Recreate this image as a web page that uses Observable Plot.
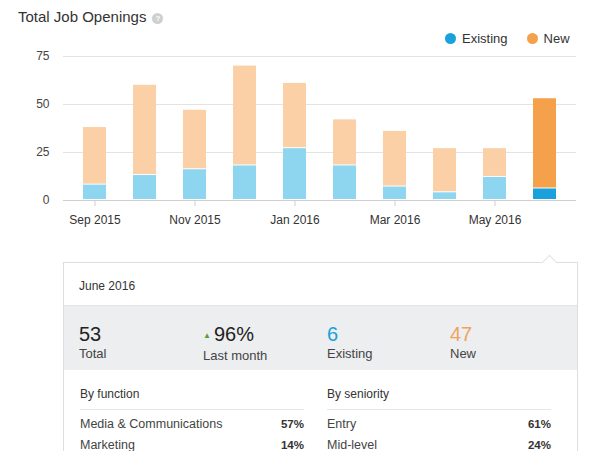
<!DOCTYPE html>
<html><head><meta charset="utf-8">
<script src="https://cdn.jsdelivr.net/npm/d3@7"></script>
<script src="https://cdn.jsdelivr.net/npm/@observablehq/plot@0.6"></script>
<style>
body{margin:0;background:#fff;font-family:"Liberation Sans",Arial,sans-serif;color:#333;}
#wrap{position:relative;width:600px;height:451px;overflow:hidden;}
#title{position:absolute;left:18px;top:8px;font-size:15px;color:#333;white-space:nowrap;}
#title .help{display:inline-block;width:11px;height:11px;border-radius:50%;background:#cfcfcf;color:#fff;font-size:8px;line-height:11px;text-align:center;font-weight:bold;vertical-align:1px;margin-left:6px;}
#legend{position:absolute;top:31px;left:445px;font-size:13px;white-space:nowrap;}
#legend .it{display:inline-flex;align-items:center;margin-right:19px;}
#legend .dot{display:inline-block;width:11px;height:11px;border-radius:50%;margin-right:6px;}
#chart{position:absolute;left:0;top:0;}
#panel{position:absolute;left:63px;top:262px;width:513px;height:200px;border:1px solid #dedede;background:#fff;}
#caret{position:absolute;left:480px;top:-6px;width:10px;height:10px;background:#fff;border-left:1px solid #e2e2e2;border-top:1px solid #e2e2e2;transform:rotate(45deg);}
#phead{position:absolute;left:15px;top:16px;font-size:12px;color:#333;}
#band{position:absolute;left:0;top:42px;width:513px;height:64px;background:#eceef0;border-top:1px solid #e2e4e6;}
.stat{position:absolute;top:17px;}
.stat .v{font-size:20px;line-height:22px;color:#222;}
.stat .l{font-size:13px;line-height:16px;color:#444;margin-top:1px;}
.tri{font-size:8px;color:#5a9e3a;vertical-align:3px;margin-right:3px;}
.sec{position:absolute;top:124px;width:224px;}
.sec .h{font-size:12px;color:#333;height:22px;border-bottom:1px solid #e6e6e6;}
.sec .r{display:flex;justify-content:space-between;font-size:12.5px;color:#444;height:21px;line-height:21px;}
.sec .r b{font-size:11.5px;color:#333;}
</style></head><body>
<div id="wrap">
  <div id="title">Total Job Openings<span class="help">?</span></div>
  <div id="legend"></div>
  <div id="chart"></div>
  <div id="panel">
    <div id="caret"></div>
    <div id="phead"></div>
    <div id="band"></div>
    <div id="secs"></div>
  </div>
</div>
<script>
const months = ["Sep 2015","Oct 2015","Nov 2015","Dec 2015","Jan 2016","Feb 2016","Mar 2016","Apr 2016","May 2016","Jun 2016"];
const existing = [8,13,16,18,27,18,7,4,12,6];
const newJobs = [30,47,31,52,34,24,29,23,15,47];
const xTicks = ["Sep 2015","Nov 2015","Jan 2016","Mar 2016","May 2016"];
const yTicks = [0,25,50,75];
const seriesNames = ["Existing","New"];

const panelTitle = "June 2016";
const statValues = ["53","96%","6","47"];
const statLabels = ["Total","Last month","Existing","New"];
const functionNames = ["Media & Communications","Marketing"];
const functionShares = ["57%","14%"];
const seniorityNames = ["Entry","Mid-level"];
const seniorityShares = ["61%","24%"];

const lightColors = {Existing:"#8ed5f0", New:"#fbd0a6"};
const darkColors = {Existing:"#1aa1db", New:"#f5a04a"};

const rows = [];
months.forEach((m,i)=>{
  const last = i === months.length-1;
  rows.push({month:m, type:"Existing", value:existing[i], color:(last?darkColors:lightColors).Existing});
  rows.push({month:m, type:"New", value:newJobs[i], color:(last?darkColors:lightColors).New});
});

const chart = Plot.plot({
  width:600, height:235,
  marginTop:56, marginBottom:35, marginLeft:63, marginRight:24,
  style:{fontFamily:"'Liberation Sans', Arial, sans-serif", fontSize:"12px", color:"#444", background:"transparent"},
  x:{type:"band", domain:months, paddingInner:0.546, paddingOuter:0.332, label:null},
  y:{domain:[0,75], label:null},
  color:{type:"identity"},
  marks:[
    Plot.gridY({ticks:yTicks.filter(d=>d>0), stroke:"#e3e3e3", strokeOpacity:1}),
    Plot.barY(rows, {x:"month", y:"value", z:"type", fill:"color", insetBottom:1}),
    Plot.ruleY([0], {stroke:"#cfcfcf", strokeWidth:1.2}),
    Plot.axisY({ticks:yTicks, tickSize:0, tickPadding:14, fill:"#444", fontSize:12}),
    Plot.axisX({ticks:xTicks, tickSize:6, tickPadding:8.5, stroke:"#cfcfcf", fill:"#333", fontSize:12})
  ]
});
document.getElementById("chart").appendChild(chart);

// legend
const lg = document.getElementById("legend");
seriesNames.forEach(n=>{
  const s = document.createElement("span"); s.className="it";
  s.innerHTML = `<span class="dot" style="background:${darkColors[n]}"></span>${n}`;
  lg.appendChild(s);
});

// panel
document.getElementById("phead").textContent = panelTitle;
const band = document.getElementById("band");
const statLefts = [15,139,263,386];
const statColors = ["#222","#222",darkColors.Existing,"#f0a35e"];
statValues.forEach((v,i)=>{
  const d = document.createElement("div"); d.className="stat"; d.style.left = statLefts[i]+"px";
  const tri = i===1 ? '<span class="tri">▲</span>' : '';
  d.innerHTML = `<div class="v" style="color:${statColors[i]}">${tri}${v}</div><div class="l">${statLabels[i]}</div>`;
  band.appendChild(d);
});
const secs = document.getElementById("secs");
function section(left, head, names, shares){
  const d = document.createElement("div"); d.className="sec"; d.style.left = left+"px";
  let h = `<div class="h">${head}</div><div style="height:4px"></div>`;
  names.forEach((n,i)=>{ h += `<div class="r"><span>${n.replace("&","&amp;")}</span><b>${shares[i]}</b></div>`; });
  d.innerHTML = h;
  secs.appendChild(d);
}
section(16, "By function", functionNames, functionShares);
section(263, "By seniority", seniorityNames, seniorityShares);
</script>
</body></html>
